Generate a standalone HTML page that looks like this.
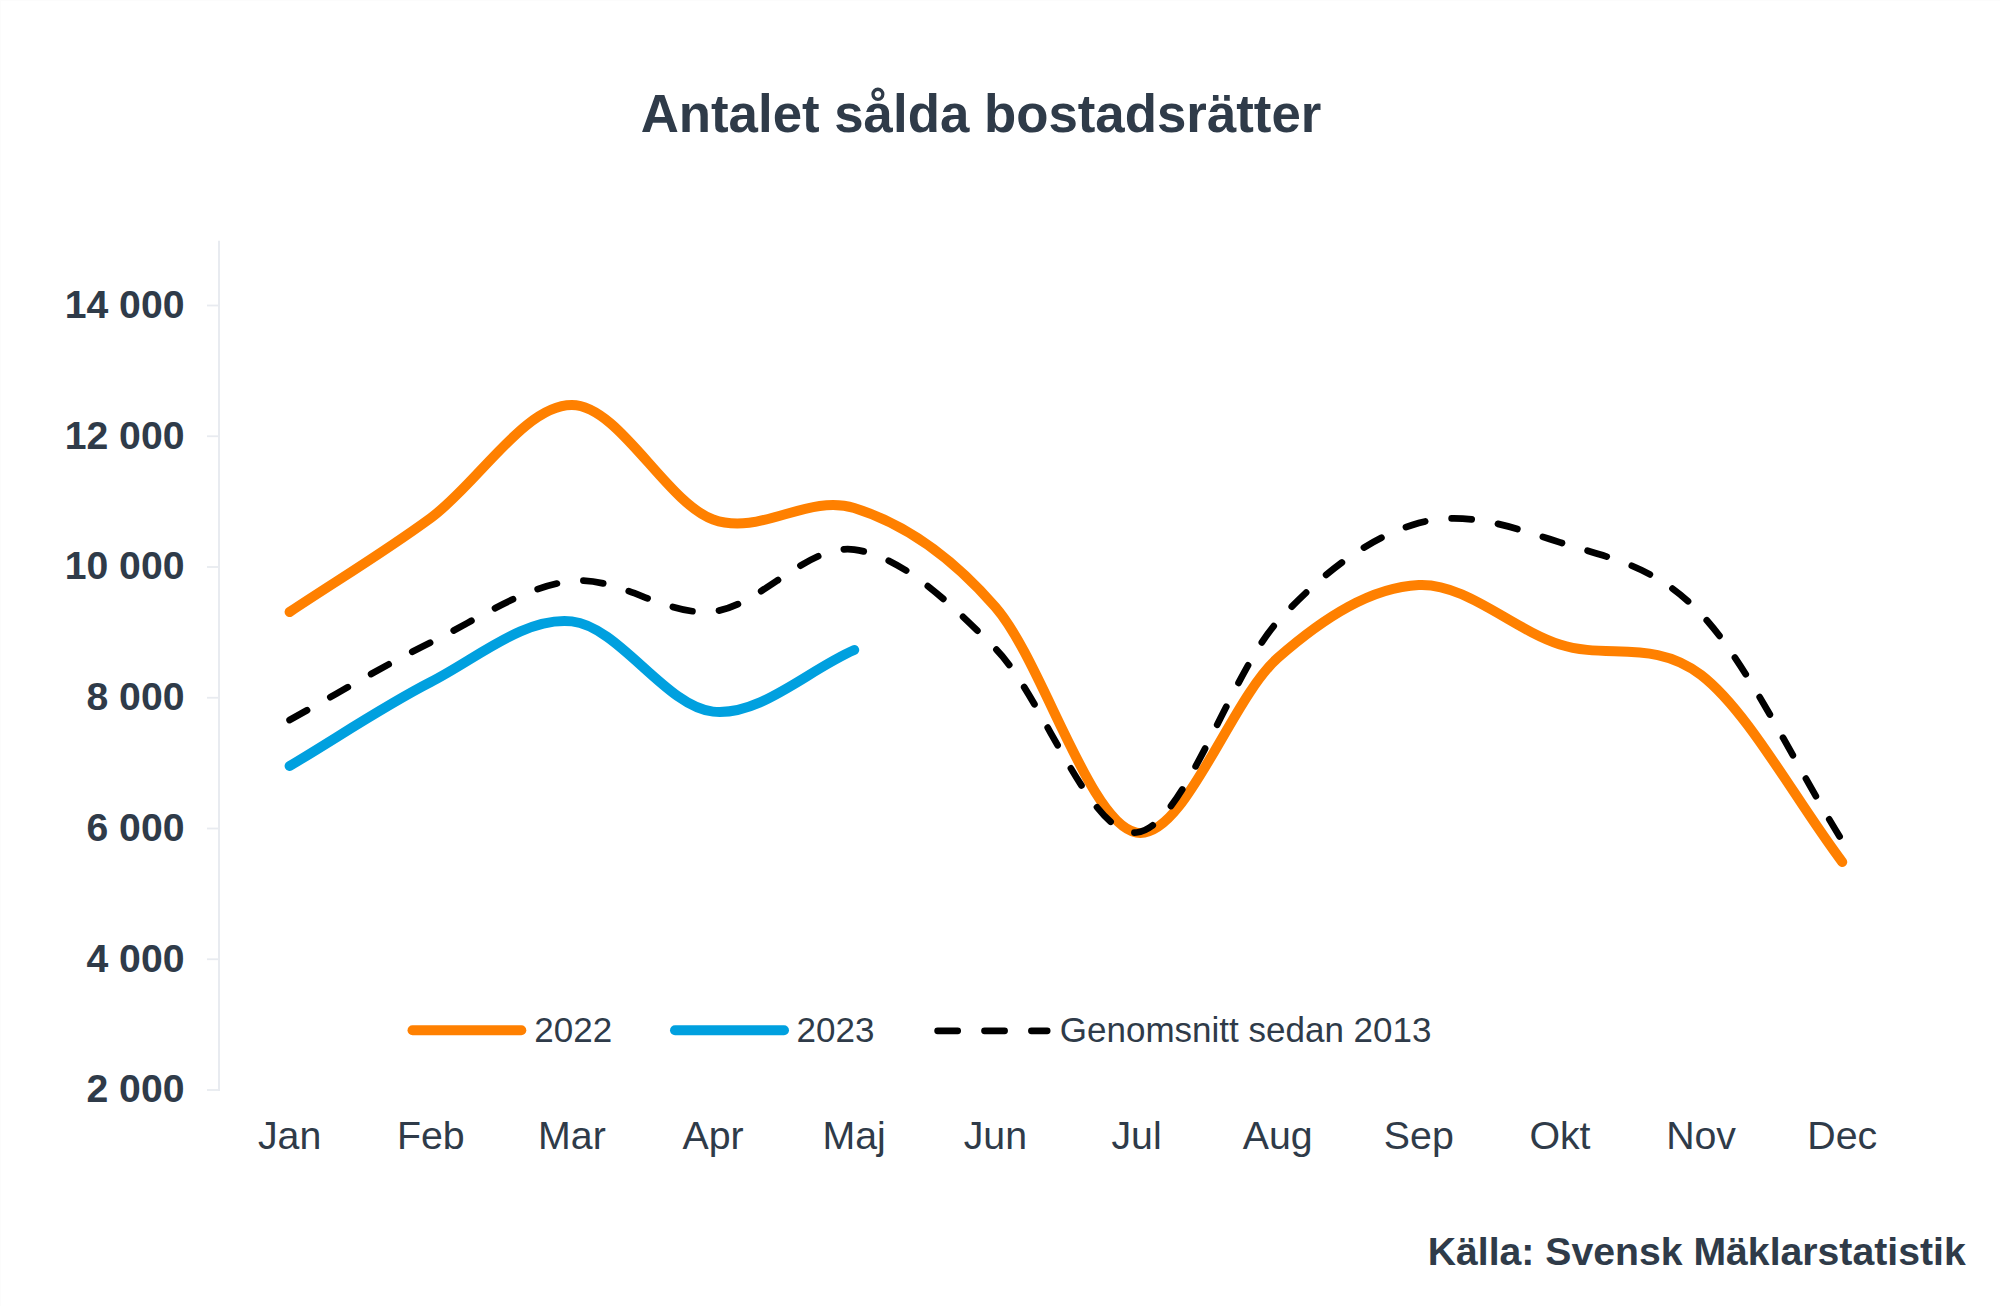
<!DOCTYPE html>
<html lang="sv"><head><meta charset="utf-8"><title>Antalet sålda bostadsrätter</title>
<style>
html,body{margin:0;padding:0;background:#fff;}
body{width:2000px;height:1306px;overflow:hidden;}
svg{display:block;font-family:"Liberation Sans",Arial,Helvetica,sans-serif;}
svg text{white-space:pre;}
</style></head><body>
<svg width="2000" height="1306" viewBox="0 0 2000 1306">
<rect x="0" y="0" width="2000" height="1306" fill="#fff"/><rect x="0" y="0" width="2000" height="1" fill="#fcfcfc"/><rect x="0" y="0" width="1" height="1306" fill="#fcfcfc"/>
<line x1="219" y1="240.7" x2="219" y2="1090.9" stroke="#e8ebf0" stroke-width="2"/>
<line x1="207" y1="1090.00" x2="219" y2="1090.00" stroke="#e8ebf0" stroke-width="1.8"/>
<line x1="207" y1="959.25" x2="219" y2="959.25" stroke="#e8ebf0" stroke-width="1.8"/>
<line x1="207" y1="828.50" x2="219" y2="828.50" stroke="#e8ebf0" stroke-width="1.8"/>
<line x1="207" y1="697.75" x2="219" y2="697.75" stroke="#e8ebf0" stroke-width="1.8"/>
<line x1="207" y1="567.00" x2="219" y2="567.00" stroke="#e8ebf0" stroke-width="1.8"/>
<line x1="207" y1="436.25" x2="219" y2="436.25" stroke="#e8ebf0" stroke-width="1.8"/>
<line x1="207" y1="305.50" x2="219" y2="305.50" stroke="#e8ebf0" stroke-width="1.8"/>
<text x="981" y="132" text-anchor="middle" font-weight="700" font-size="52.8" fill="#2f3b49">Antalet sålda bostadsrätter</text>
<text x="184.5" y="1102.30" text-anchor="end" font-weight="700" font-size="39.2" fill="#2f3b49">2 000</text>
<text x="184.5" y="971.55" text-anchor="end" font-weight="700" font-size="39.2" fill="#2f3b49">4 000</text>
<text x="184.5" y="840.80" text-anchor="end" font-weight="700" font-size="39.2" fill="#2f3b49">6 000</text>
<text x="184.5" y="710.05" text-anchor="end" font-weight="700" font-size="39.2" fill="#2f3b49">8 000</text>
<text x="184.5" y="579.30" text-anchor="end" font-weight="700" font-size="39.2" fill="#2f3b49">10 000</text>
<text x="184.5" y="448.55" text-anchor="end" font-weight="700" font-size="39.2" fill="#2f3b49">12 000</text>
<text x="184.5" y="317.80" text-anchor="end" font-weight="700" font-size="39.2" fill="#2f3b49">14 000</text>
<text x="289.60" y="1148.8" text-anchor="middle" font-size="39.3" fill="#2f3b49">Jan</text>
<text x="430.75" y="1148.8" text-anchor="middle" font-size="39.3" fill="#2f3b49">Feb</text>
<text x="571.90" y="1148.8" text-anchor="middle" font-size="39.3" fill="#2f3b49">Mar</text>
<text x="713.05" y="1148.8" text-anchor="middle" font-size="39.3" fill="#2f3b49">Apr</text>
<text x="854.20" y="1148.8" text-anchor="middle" font-size="39.3" fill="#2f3b49">Maj</text>
<text x="995.35" y="1148.8" text-anchor="middle" font-size="39.3" fill="#2f3b49">Jun</text>
<text x="1136.50" y="1148.8" text-anchor="middle" font-size="39.3" fill="#2f3b49">Jul</text>
<text x="1277.65" y="1148.8" text-anchor="middle" font-size="39.3" fill="#2f3b49">Aug</text>
<text x="1418.80" y="1148.8" text-anchor="middle" font-size="39.3" fill="#2f3b49">Sep</text>
<text x="1559.95" y="1148.8" text-anchor="middle" font-size="39.3" fill="#2f3b49">Okt</text>
<text x="1701.10" y="1148.8" text-anchor="middle" font-size="39.3" fill="#2f3b49">Nov</text>
<text x="1842.25" y="1148.8" text-anchor="middle" font-size="39.3" fill="#2f3b49">Dec</text>
<path d="M289.60 612.00 C336.65 580.67 383.70 552.50 430.75 518.00 C477.80 483.50 524.85 404.75 571.90 405.00 C618.95 405.25 666.00 502.33 713.05 519.50 C760.10 536.67 807.15 493.42 854.20 508.00 C901.25 522.58 948.30 552.90 995.35 607.00 C1042.40 661.10 1089.45 824.10 1136.50 832.60 C1183.55 841.10 1230.60 699.27 1277.65 658.00 C1324.70 616.73 1371.75 587.25 1418.80 585.00 C1465.85 582.75 1512.90 629.50 1559.95 644.50 C1607.00 659.50 1654.05 638.75 1701.10 675.00 C1748.15 711.25 1795.20 799.67 1842.25 862.00" fill="none" stroke="#ff8000" stroke-width="10" stroke-linecap="round" stroke-linejoin="round"/>
<path d="M289.60 766.00 C336.65 738.00 383.70 706.10 430.75 682.00 C477.80 657.90 524.85 616.47 571.90 621.40 C618.95 626.33 666.00 706.83 713.05 711.60 C760.10 716.37 807.15 670.53 854.20 650.00" fill="none" stroke="#00a0df" stroke-width="10" stroke-linecap="round" stroke-linejoin="round"/>
<path d="M289.60 720.00 C336.65 694.13 383.70 665.57 430.75 642.40 C477.80 619.23 524.85 586.13 571.90 581.00 C618.95 575.87 666.00 616.83 713.05 611.60 C760.10 606.37 807.15 543.45 854.20 549.60 C901.25 555.75 948.30 601.35 995.35 648.50 C1042.40 695.65 1089.45 836.98 1136.50 832.50 C1183.55 828.02 1230.60 673.18 1277.65 621.60 C1324.70 570.02 1371.75 536.20 1418.80 523.00 C1465.85 509.80 1512.90 527.23 1559.95 542.40 C1607.00 557.57 1654.05 564.27 1701.10 614.00 C1748.15 663.73 1795.20 765.20 1842.25 840.80" fill="none" stroke="#000" stroke-width="6.7" stroke-linecap="round" stroke-linejoin="round" stroke-dasharray="20.05 26.72"/>
<line x1="412.5" y1="1030.2" x2="521.3" y2="1030.2" stroke="#ff8000" stroke-width="10" stroke-linecap="round"/>
<text x="534.3" y="1041.7" font-size="35" fill="#2f3b49">2022</text>
<line x1="675" y1="1030.2" x2="784" y2="1030.2" stroke="#00a0df" stroke-width="10" stroke-linecap="round"/>
<text x="796.5" y="1041.7" font-size="35" fill="#2f3b49">2023</text>
<line x1="937.6" y1="1030.8" x2="1047.2" y2="1030.8" stroke="#000" stroke-width="6.7" stroke-linecap="round" stroke-dasharray="20.1 26.8"/>
<text x="1059.8" y="1041.7" font-size="35" fill="#2f3b49">Genomsnitt sedan 2013</text>
<text x="1965.7" y="1264.7" text-anchor="end" font-weight="700" font-size="39.2" fill="#2f3b49">Källa: Svensk Mäklarstatistik</text>
</svg>
</body></html>
